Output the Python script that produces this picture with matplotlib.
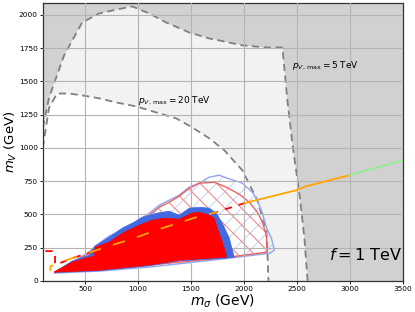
import matplotlib
matplotlib.use("Agg")
import matplotlib.pyplot as plt
from matplotlib.patches import Polygon
import numpy as np

plt.rcParams['hatch.linewidth'] = 0.7

# ---- data (GeV) ----
outer_x = [100, 160, 301, 472, 632, 802, 944, 1105, 1265, 1483, 1672, 1767, 1984, 2211, 2362, 2409, 2456, 2522, 2569, 2600]
outer_y = [1150, 1377, 1694, 1942, 2010, 2040, 2063, 2010, 1942, 1867, 1822, 1807, 1770, 1754, 1754, 1356, 1033, 657, 326, 0]

inner_x = [100, 160, 235, 349, 472, 632, 793, 982, 1171, 1360, 1511, 1672, 1814, 1984, 2126, 2211, 2220, 2230]
inner_y = [1000, 1303, 1408, 1408, 1394, 1372, 1341, 1311, 1266, 1221, 1153, 1071, 981, 831, 604, 379, 230, 0]

bhatch_x = [207, 396, 538, 595, 727, 869, 1010, 1105, 1199, 1294, 1388, 1483, 1577, 1672, 1766, 1814, 1984, 2078, 2125, 2173, 2210, 2258, 2286, 2248, 1861, 1105, 632]
bhatch_y = [58, 148, 216, 261, 336, 388, 456, 508, 568, 606, 644, 704, 734, 779, 794, 779, 734, 666, 606, 508, 403, 321, 231, 208, 170, 103, 73]

rhatch_x = [207, 396, 538, 595, 727, 869, 1010, 1105, 1199, 1294, 1388, 1483, 1577, 1719, 1832, 1955, 2050, 2125, 2173, 2210, 2220, 1861, 1105, 632]
rhatch_y = [65, 140, 208, 253, 321, 381, 441, 493, 553, 591, 636, 696, 734, 741, 704, 651, 591, 516, 441, 343, 216, 178, 118, 80]

bfill_x = [207, 377, 538, 595, 727, 850, 963, 1039, 1171, 1294, 1388, 1483, 1577, 1672, 1738, 1795, 1861, 1889, 1908, 1832, 1388, 1105, 632]
bfill_y = [62, 148, 193, 261, 328, 396, 441, 478, 508, 523, 493, 546, 553, 546, 508, 433, 321, 231, 178, 170, 150, 113, 76]

rfill_x = [207, 377, 538, 585, 595, 727, 869, 1010, 1133, 1247, 1388, 1502, 1577, 1672, 1719, 1747, 1795, 1832, 1832, 1388, 1105, 632]
rfill_y = [65, 140, 178, 185, 253, 291, 366, 418, 456, 471, 463, 508, 516, 493, 471, 396, 291, 193, 178, 155, 118, 80]

red_dash_x = [125, 216, 216, 300, 380, 727, 963, 1199, 1549, 1738, 2003]
red_dash_y = [223, 223, 120, 145, 170, 261, 321, 388, 478, 516, 584]

orange_dash_x = [170, 175, 300, 727, 963, 1199, 1549, 1750]
orange_dash_y = [75, 110, 150, 261, 321, 388, 478, 518]

orange_x = [2003, 2494, 2588, 2995]
orange_y = [584, 681, 711, 794]

green_x = [2995, 3496]
green_y = [794, 905]

xticks = [500, 1000, 1500, 2000, 2500, 3000, 3500]
yticks = [0, 250, 500, 750, 1000, 1250, 1500, 1750, 2000]
xlim = (100, 3500)
ylim = (0, 2090)

fig = plt.figure(figsize=(4.15, 3.12), dpi=100)
ax = fig.add_axes([0.103, 0.100, 0.868, 0.891])
ax.set_xlim(*xlim)
ax.set_ylim(*ylim)

dark = '#d1d1d1'
light = '#f2f2f2'
ax.set_facecolor(dark)

lx = list(outer_x) + [xlim[0]]
ly = list(outer_y) + [0]
ax.add_patch(Polygon(np.column_stack([lx, ly]), closed=True, facecolor=light, edgecolor='none', zorder=0.5))
ix = list(inner_x) + [xlim[0]]
iy = list(inner_y) + [0]
ax.add_patch(Polygon(np.column_stack([ix, iy]), closed=True, facecolor='white', edgecolor='none', zorder=0.6))

ax.grid(True, color='#b4b4b4', linewidth=0.8, zorder=0.8)
ax.set_axisbelow(False)

ax.plot(outer_x, outer_y, color='#808080', ls=(0, (4, 2.5)), lw=1.3, zorder=1)
ax.plot(inner_x, inner_y, color='#808080', ls=(0, (4, 2.5)), lw=1.3, zorder=1)

# hatched regions
bh = np.column_stack([bhatch_x, bhatch_y])
ax.add_patch(Polygon(bh, closed=True, facecolor='none', edgecolor='#c3d1f4', hatch='//', lw=0, zorder=2))
ax.add_patch(Polygon(bh, closed=True, facecolor='none', edgecolor='#8fa6ee', lw=1.0, zorder=2.05))
rh = np.column_stack([rhatch_x, rhatch_y])
ax.add_patch(Polygon(rh, closed=True, facecolor='none', edgecolor='#f47c7c', hatch='\\\\', lw=0, zorder=2.1))
ax.add_patch(Polygon(rh, closed=True, facecolor='none', edgecolor='#f06060', lw=1.0, zorder=2.15))

ax.add_patch(Polygon(np.column_stack([bfill_x, bfill_y]), closed=True, facecolor='#4169e1',
                     edgecolor='#4169e1', lw=0.5, zorder=3))
ax.add_patch(Polygon(np.column_stack([rfill_x, rfill_y]), closed=True, facecolor='#ff0000',
                     edgecolor='#ff0000', lw=0.5, zorder=3.1))

ax.plot(red_dash_x, red_dash_y, color='#ff0000', ls=(0, (4, 4)), lw=1.3, zorder=3.05)
ax.plot(orange_dash_x, orange_dash_y, color='orange', ls=(3, (7, 7)), lw=1.3, zorder=3.2)
ax.plot(orange_x, orange_y, color='orange', lw=1.3, zorder=3.2)
ax.plot(green_x, green_y, color='lightgreen', lw=1.3, zorder=3.2)

ax.text(1000, 1357, r'$p_{V,\,\mathrm{max}} = 20$ TeV', fontsize=6.5, va='center', ha='left', zorder=4)
ax.text(2450, 1620, r'$p_{V,\,\mathrm{max}} = 5$ TeV', fontsize=6.5, va='center', ha='left', zorder=4)
ax.text(2800, 192, r'$f = 1$ TeV', fontsize=11.5, va='center', ha='left', zorder=4)

ax.set_xticks(xticks)
ax.set_yticks(yticks)
ax.tick_params(labelsize=5.3, length=2, width=0.6, pad=1.5)
for s in ax.spines.values():
    s.set_color('#333333')
    s.set_linewidth(0.9)

ax.set_xlabel(r'$m_\sigma$ (GeV)', fontsize=10, labelpad=1)
ax.set_ylabel(r'$m_V$ (GeV)', fontsize=9.5)
ax.yaxis.set_label_coords(-0.066, 0.5)

fig.savefig('out.png', dpi=100)
